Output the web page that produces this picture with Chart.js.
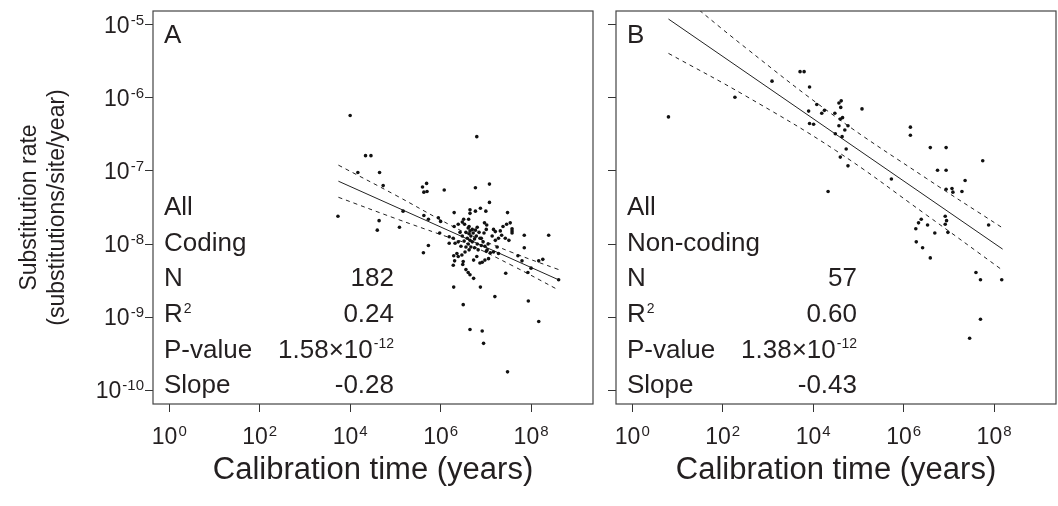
<!DOCTYPE html>
<html lang="en">
<head>
<meta charset="UTF-8">
<title>Substitution rate vs calibration time</title>
<script src="https://cdn.jsdelivr.net/npm/chart.js@4.4.1/dist/chart.umd.min.js"></script>
<style>
  html, body { margin:0; padding:0; background:#fff; }
  #wrap { position:relative; width:1058px; height:506px; }
  #panelA { position:absolute; left:0; top:0; }
  #panelB { position:absolute; left:600px; top:0; }
</style>
</head>
<body>
<div id="wrap">
  <canvas id="panelA" width="600" height="506"></canvas>
  <canvas id="panelB" width="458" height="506"></canvas>
</div>

<script>
// values, as log10 (time in years, rate in subst/site/year)
// A) coding
const codingLogTime = [
  4.00,4.34,4.46,4.17,4.65,4.73,3.73,4.64,4.60,5.09,5.17,5.60,5.69,5.63,5.70,6.08,6.80,6.77,7.08,7.08,
  6.30,6.65,6.65,6.88,6.77,7.00,7.48,5.63,5.73,6.00,5.73,5.98,7.85,8.39,7.46,7.54,7.38,6.39,6.48,6.53,
  6.97,7.02,7.17,7.32,7.58,5.95,6.51,6.62,7.85,8.17,8.00,7.93,5.62,6.29,6.88,6.50,7.20,7.94,8.17,6.65,
  6.92,6.95,7.48,7.44,6.73,6.65,6.61,8.26,8.61,7.71,7.80,6.49,6.50,6.31,6.29,6.56,6.98,6.92,6.32,6.28,
  6.36,6.39,6.47,6.73,6.80,6.28,
  6.61,6.65,6.70,6.63,6.67,6.72,6.59,6.65,6.70,6.61,6.75,6.56,6.77,6.79,6.67,6.63,6.75,6.81,6.56,6.52,
  6.48,6.43,6.39,6.81,6.85,6.90,6.94,6.98,7.03,7.10,7.05,7.14,7.21,7.25,6.96,7.01,6.83,6.45,6.54,
  7.21,7.28,7.58,7.58,7.35,7.43,7.51,6.87,7.06,7.17,7.28,6.87,6.63,6.19,6.30,6.19,6.90,7.01
];
const codingLogRate = [
  -6.24,-6.79,-6.79,-7.02,-7.02,-7.20,-7.62,-7.68,-7.81,-7.77,-7.55,-7.22,-7.17,-7.29,-7.28,-7.26,-6.53,-7.23,-7.18,-7.43,
  -7.57,-7.53,-7.58,-7.51,-7.55,-7.55,-7.57,-7.61,-7.66,-7.69,-8.02,-7.85,-7.88,-7.88,-7.73,-7.71,-7.76,-7.73,-7.70,-7.73,
  -7.71,-7.74,-7.80,-7.82,-7.82,-7.64,-7.66,-7.66,-8.05,-8.23,-8.33,-8.39,-8.12,-8.59,-8.59,-8.83,-8.72,-8.78,-9.06,-9.17,
  -9.19,-9.36,-9.75,-8.40,-8.47,-8.42,-8.39,-8.21,-8.49,-8.16,-8.23,-8.28,-8.24,-8.23,-8.16,-8.35,-8.22,-8.25,-7.99,-7.92,
  -8.13,-8.17,-8.15,-8.22,-8.17,-8.29,
  -7.78,-7.82,-7.80,-7.86,-7.89,-7.85,-7.92,-7.95,-7.97,-8.00,-7.93,-7.84,-7.81,-7.89,-8.04,-8.08,-8.05,-8.00,-8.04,-7.96,
  -7.89,-7.84,-7.97,-7.77,-7.84,-7.92,-7.97,-8.03,-8.08,-8.12,-8.00,-7.89,-7.95,-8.04,-7.85,-7.80,-8.08,-8.03,-8.11,
  -7.83,-7.92,-7.79,-7.85,-7.88,-7.92,-7.95,-8.26,-8.20,-8.11,-8.13,-7.92,-7.76,-7.90,-7.76,-7.99,-8.02,-8.10
];
const codingFitTime  = [3.74, 8.61];
const codingFitRate  = [-7.14, -8.49];
const codingCiTime   = [3.74, 5.0, 6.0, 6.6, 7.6, 8.61];
const codingCiUpper  = [-6.92, -7.33, -7.67, -7.86, -8.12, -8.35];
const codingCiLower  = [-7.36, -7.65, -7.87, -8.00, -8.30, -8.63];

// B) non-coding
const noncodingLogTime = [
  0.80,2.27,3.09,3.71,3.80,3.92,4.08,4.19,4.25,3.90,3.92,4.01,4.48,4.57,4.62,4.61,4.65,4.60,4.57,4.70,
  4.77,4.49,4.64,5.08,4.73,4.60,4.77,4.33,5.73,6.15,6.15,6.59,6.94,6.75,6.94,7.75,7.36,6.94,7.07,7.09,
  7.29,6.39,6.33,6.27,6.53,6.69,6.92,6.95,6.92,6.98,7.88,6.28,6.42,6.59,7.60,7.70,8.17,7.70,7.46
];
const noncodingLogRate = [
  -6.26,-5.99,-5.77,-5.64,-5.64,-5.85,-6.09,-6.21,-6.17,-6.18,-6.35,-6.36,-6.21,-6.07,-6.04,-6.13,-6.27,-6.29,-6.38,-6.44,
  -6.38,-6.49,-6.53,-6.15,-6.70,-6.81,-6.93,-7.28,-7.11,-6.40,-6.51,-6.68,-6.68,-6.99,-6.99,-6.86,-7.13,-7.25,-7.24,-7.29,
  -7.28,-7.66,-7.71,-7.79,-7.74,-7.85,-7.62,-7.68,-7.73,-7.84,-7.74,-7.97,-8.05,-8.19,-8.39,-8.49,-8.49,-9.03,-9.29
];
const noncodingFitTime = [0.80, 8.19];
const noncodingFitRate = [-4.92, -8.07];
const noncodingCiTime  = [0.80, 2.5, 4.5, 6.5, 8.19];
const noncodingCiUpper = [-4.45, -5.31, -6.26, -7.10, -7.78];
const noncodingCiLower = [-5.39, -5.97, -6.72, -7.60, -8.36];

// tick exponents (labels are 10^e)
const timeTicks = [0, 2, 4, 6, 8];
const rateTicks = [-10, -9, -8, -7, -6, -5];

const FONT = '"Liberation Sans", Arial, Helvetica, sans-serif';
const INK = '#231f20';

function pts(lx, ly) {
  return lx.map((x, i) => ({ x: Math.pow(10, x), y: Math.pow(10, ly[i]) }));
}

// "base" + raised exponent; align = 'left' | 'right' | 'center'
function supText(ctx, base, exp, x, y, size, supSize, align) {
  ctx.font = size + 'px ' + FONT;
  const wb = ctx.measureText(base).width;
  ctx.font = supSize + 'px ' + FONT;
  const we = exp ? ctx.measureText(exp).width + 1 : 0;
  const w = wb + we;
  let x0 = x;
  if (align === 'right') x0 = x - w;
  if (align === 'center') x0 = x - w / 2;
  ctx.textAlign = 'left';
  ctx.font = size + 'px ' + FONT;
  ctx.fillText(base, x0, y);
  if (exp) {
    ctx.font = supSize + 'px ' + FONT;
    ctx.fillText(exp, x0 + wb + 1, y - size * 0.36);
  }
}

// box round the plot, power-of-ten tick labels and the statistics block
const panelText = {
  id: 'panelText',
  afterDraw(chart, args, o) {
    const { ctx, chartArea: a, scales } = chart;
    ctx.save();
    ctx.strokeStyle = '#444';
    ctx.lineWidth = 1.2;
    ctx.strokeRect(a.left, a.top, a.right - a.left, a.bottom - a.top);

    ctx.fillStyle = INK;
    ctx.textBaseline = 'alphabetic';

    timeTicks.forEach(e => {
      const px = scales.x.getPixelForValue(Math.pow(10, e));
      supText(ctx, '10', String(e), px, 444, 23, 15, 'center');
    });
    if (o.yLabels) {
      rateTicks.forEach(e => {
        const py = scales.y.getPixelForValue(Math.pow(10, e));
        supText(ctx, '10', String(e), a.left - 9, py + 8, 23, 15, 'right');
      });
    }

    const lx = a.left + 11, rx = a.left + 241;
    ctx.textAlign = 'left';
    ctx.font = '26px ' + FONT;
    ctx.fillText(o.letter, lx, 43);

    const rows = [
      { y: 215,   l: 'All' },
      { y: 250.7, l: o.group },
      { y: 286.3, l: 'N', v: o.n },
      { y: 322,   l: 'R', lsup: '2', v: o.r2 },
      { y: 357.6, l: 'P-value', v: o.pMant, vsup: o.pExp },
      { y: 393.2, l: 'Slope', v: o.slope }
    ];
    rows.forEach(r => {
      supText(ctx, r.l, r.lsup, lx, r.y, 26, 14, 'left');
      if (r.v) supText(ctx, r.v, r.vsup, rx, r.y, 26, 14, 'right');
    });
    ctx.restore();
  }
};

function makeChart(id, d) {
  const grid = { drawOnChartArea: false, tickLength: 8, color: '#333', lineWidth: 1 };
  return new Chart(document.getElementById(id), {
    type: 'scatter',
    data: {
      datasets: [
        { data: pts(d.lx, d.ly), pointRadius: 1.8, pointHoverRadius: 1.8,
          backgroundColor: '#111', borderWidth: 0, showLine: false },
        { data: pts(d.fitX, d.fitY), showLine: true, pointRadius: 0,
          borderColor: '#222', borderWidth: 1 },
        { data: pts(d.ciX, d.ciU), showLine: true, pointRadius: 0, tension: 0.4,
          borderColor: '#222', borderWidth: 1, borderDash: [4, 4] },
        { data: pts(d.ciX, d.ciL), showLine: true, pointRadius: 0, tension: 0.4,
          borderColor: '#222', borderWidth: 1, borderDash: [4, 4] }
      ]
    },
    options: {
      responsive: false,
      animation: false,
      events: [],
      layout: { padding: { left: 0, top: 11, right: d.padRight, bottom: 0 } },
      plugins: { legend: { display: false }, tooltip: { enabled: false }, panelText: d.stats },
      scales: {
        x: {
          type: 'logarithmic',
          min: Math.pow(10, -0.36), max: Math.pow(10, 9.37),
          afterBuildTicks: ax => { ax.ticks = timeTicks.map(e => ({ value: Math.pow(10, e) })); },
          afterFit: s => { s.height = 102; s.paddingLeft = 0; s.paddingRight = 0; },
          grid, border: { display: false },
          ticks: { display: false },
          title: { display: true, text: 'Calibration time (years)', color: INK,
                   font: { family: FONT, size: 31 }, padding: { top: 0, bottom: 17 } }
        },
        y: {
          type: 'logarithmic',
          min: Math.pow(10, -10.19), max: Math.pow(10, -4.81),
          afterBuildTicks: ax => { ax.ticks = rateTicks.map(e => ({ value: Math.pow(10, e) })); },
          afterFit: s => { s.width = d.yWidth; s.paddingTop = 0; s.paddingBottom = 0; },
          grid, border: { display: false },
          ticks: { display: false },
          title: { display: d.stats.yLabels, text: ['Substitution rate', '(substitutions/site/year)'],
                   color: INK, font: { family: FONT, size: 23 }, padding: { top: 16, bottom: 0 } }
        }
      }
    },
    plugins: [panelText]
  });
}

makeChart('panelA', {
  lx: codingLogTime, ly: codingLogRate,
  fitX: codingFitTime, fitY: codingFitRate,
  ciX: codingCiTime, ciU: codingCiUpper, ciL: codingCiLower,
  padRight: 7, yWidth: 153,
  stats: { yLabels: true, letter: 'A', group: 'Coding', n: '182', r2: '0.24',
           pMant: '1.58×10', pExp: '-12', slope: '-0.28' }
});
makeChart('panelB', {
  lx: noncodingLogTime, ly: noncodingLogRate,
  fitX: noncodingFitTime, fitY: noncodingFitRate,
  ciX: noncodingCiTime, ciU: noncodingCiUpper, ciL: noncodingCiLower,
  padRight: 2, yWidth: 16,
  stats: { yLabels: false, letter: 'B', group: 'Non-coding', n: '57', r2: '0.60',
           pMant: '1.38×10', pExp: '-12', slope: '-0.43' }
});
</script>
</body>
</html>
